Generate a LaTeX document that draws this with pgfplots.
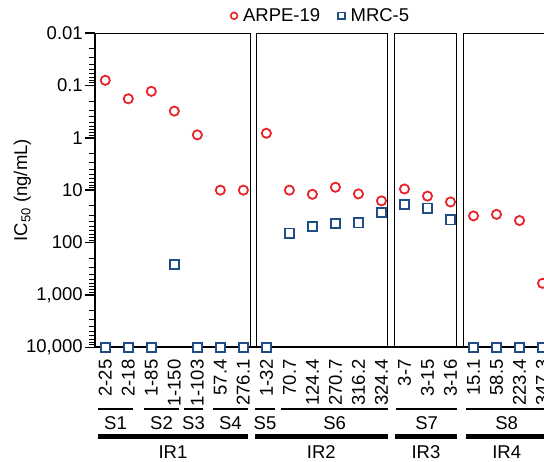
\documentclass[border=0pt]{standalone}
\usepackage{fontspec}
\setmainfont{Liberation Sans}
\usepackage{pgfplots}
\usepackage{pgfplotstable}
\pgfplotsset{compat=1.18}
\definecolor{arpe}{RGB}{232,35,43}
\definecolor{mrc}{RGB}{31,78,134}

% x = sample index, IC50 in ng/mL (10000 = not reached)
\pgfplotstableread{
x  arpe  mrc
0  0.080 10000
1  0.18  10000
2  0.13  10000
3  0.31  260
4  0.88  10000
5  10    10000
6  10    10000
7  0.82  10000
8  10    66
9  12    50
10 8.8   43
11 11.8  42
12 16    27
13 9.5   19
14 13    22
15 16.8  37
16 31    10000
17 29    10000
18 38    10000
19 600   10000
}\icdata

\newcommand{\fs}{\fontsize{18.5}{22}\selectfont}

\begin{document}
\begin{tikzpicture}
\begin{axis}[
  at={(0,0)}, anchor=south west,
  scale only axis, width=461.4pt, height=314.3pt,
  xmin=-0.45, xmax=19.6,
  ymode=log, ymin=0.01, ymax=10000, y dir=reverse,
  clip=false,
  axis line style={draw=none},
  font=\fs, tick label style={font=\fs},
  /pgf/number format/assume math mode=true,
  xtick={0,...,19},
  xticklabels={2-25,2-18,1-85,1-150,1-103,57.4,276.1,1-32,70.7,124.4,270.7,316.2,324.4,3-7,3-15,3-16,15.1,58.5,223.4,347.3},
  x tick style={draw=none},
  xticklabel style={rotate=90, anchor=east, inner sep=2pt},
  ytick={0.01,0.1,1,10,100,1000,10000},
  yticklabels={0.01,0.1,1,10,100,{1,000},{10,000}},
  ytick pos=left, tick align=outside,
  major tick length=10pt, minor tick length=6pt,
  y tick style={black, line width=1.6pt},
  minor y tick style={black, line width=1pt},
  yticklabel style={inner sep=2pt},
  legend columns=2,
  legend style={at={(axis cs:5.44,0.0047)}, anchor=west, draw=none, fill=none,
    inner sep=0pt, font=\fs,
    /tikz/every even column/.append style={column sep=16pt}},
  legend image code/.code={\path[draw=none, fill=none] (0pt,0pt) -- (7pt,0pt);
    \draw[#1, mark size=3.4pt, line width=1.6pt] plot coordinates {(0pt,0pt)};},
]
% panels
\draw[line width=1pt] (axis cs:6.29,10000) -- (axis cs:6.29,0.01) -- (axis cs:-0.45,0.01);
\draw[line width=1pt] (axis cs:6.55,10000) -- (axis cs:6.55,0.01) -- (axis cs:12.28,0.01) -- (axis cs:12.28,10000);
\draw[line width=1pt] (axis cs:12.57,10000) -- (axis cs:12.57,0.01) -- (axis cs:15.28,0.01) -- (axis cs:15.28,10000);
\draw[line width=1pt] (axis cs:15.57,10000) -- (axis cs:15.57,0.01) -- (axis cs:19.6,0.01) -- (axis cs:19.6,10000);
% axis lines
\draw[line width=2pt] (axis cs:-0.45,0.01) -- (axis cs:-0.45,10000) -- (axis cs:19.6,10000);

\addplot[only marks, mark=*, mark size=4.6pt, line width=1.8pt, draw=arpe, fill=white]
  table[x=x, y=arpe] {\icdata};
\addlegendentry{ARPE-19}
\addplot[only marks, mark=square*, mark size=4.6pt, line width=1.8pt, draw=mrc, fill=white]
  table[x=x, y=mrc] {\icdata};
\addlegendentry{MRC-5}

\node[rotate=90, font=\fs] at (axis cs:-3.6,10) {IC\textsubscript{50} (ng/mL)};
\coordinate (o) at (axis cs:0,10000);
\end{axis}

\begin{scope}[shift={(o)}, x=23pt, y=-1pt, font=\fs]
  % sub groups
  \foreach \a/\b/\t in {-0.32/1.21/S1, 1.69/3.2/S2, 3.42/4.25/S3, 4.68/6.2/S4,
                        6.51/7.38/S5, 7.64/12.3/S6, 12.64/15.3/S7, 15.7/19.2/S8}{
    \draw[line width=1.8pt] (\a,62) -- (\b,62);
    \node at ({(\a+\b)/2},76) {\t};
  }
  % main groups
  \foreach \a/\b/\t in {-0.32/6.2/IR1, 6.5/12.28/IR2, 12.6/15.28/IR3, 15.7/19.2/IR4}{
    \draw[line width=4.5pt] (\a,89.4) -- (\b,89.4);
    \node at ({(\a+\b)/2},105) {\t};
  }
  \pgfresetboundingbox
  \useasboundingbox (-4.578,-347.3) rectangle (19.074,113.7);
\end{scope}
\end{tikzpicture}
\end{document}
